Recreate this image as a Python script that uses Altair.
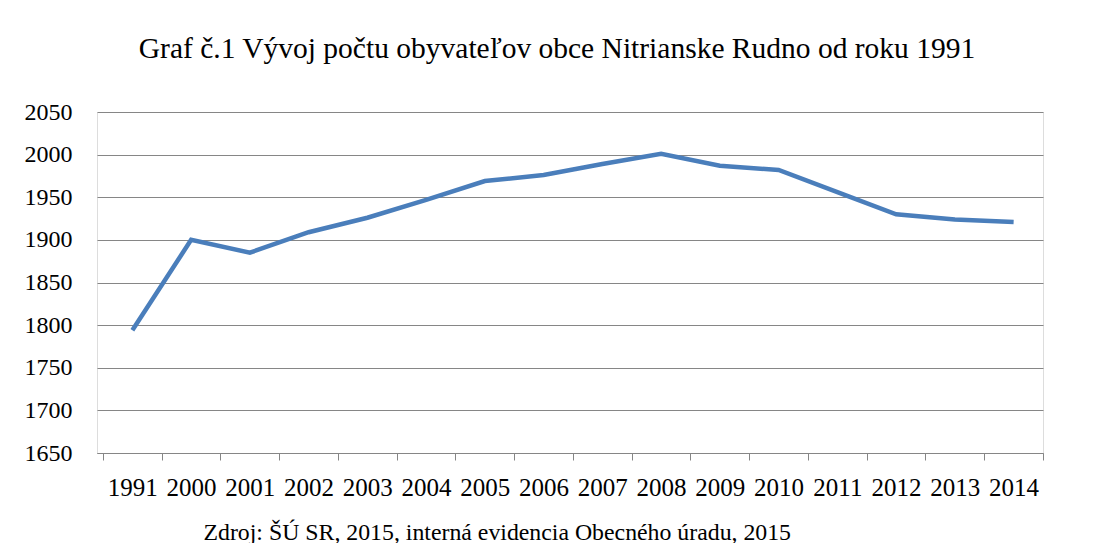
import altair as alt
import pandas as pd

years = ["1991", "2000", "2001", "2002", "2003", "2004", "2005", "2006",
         "2007", "2008", "2009", "2010", "2011", "2012", "2013", "2014"]
population = [1794, 1900, 1885, 1909, 1926, 1947, 1969, 1976,
              1989, 2001, 1987, 1982, 1956, 1930, 1924, 1921]
y_ticks = [1650, 1700, 1750, 1800, 1850, 1900, 1950, 2000, 2050]

title_text = "Graf č.1 Vývoj počtu obyvateľov obce Nitrianske Rudno od roku 1991"
source_text = "Zdroj: ŠÚ SR, 2015, interná evidencia Obecného úradu, 2015"

df = pd.DataFrame({"rok": years, "obyvatelia": population})

FONT = "Liberation Serif"
GRID = "#868686"

chart = alt.Chart(df).mark_line(color="#4A7EBB", strokeWidth=4.5).encode(
    x=alt.X(
        "rok:O",
        sort=years,
        bandPosition=0.5,
        scale=alt.Scale(type="band", paddingInner=0, paddingOuter=0.051, align=1),
        axis=alt.Axis(
            title=source_text,
            titleFont=FONT,
            titleFontSize=23.8,
            titleFontWeight="normal",
            titleColor="black",
            titleAnchor="start",
            titleAlign="left",
            titleBaseline="alphabetic",
            titleX=106,
            titleY=86,
            labelAngle=0,
            labelFont=FONT,
            labelFontSize=25,
            labelColor="black",
            labelPadding=15,
            tickBand="extent",
            ticks=True,
            tickSize=7,
            tickColor=GRID,
            tickWidth=1,
            domain=True,
            domainColor=GRID,
            domainWidth=1,
            grid=False,
        ),
    ),
    y=alt.Y(
        "obyvatelia:Q",
        scale=alt.Scale(domain=[1650, 2050], nice=False, zero=False),
        axis=alt.Axis(
            title=None,
            values=y_ticks,
            format="d",
            labelFont=FONT,
            labelFontSize=24,
            labelColor="black",
            labelPadding=25,
            ticks=False,
            domain=False,
            grid=True,
            gridColor=GRID,
            gridWidth=1,
        ),
    ),
).properties(
    width=946,
    height=341,
    title=alt.TitleParams(
        text=title_text,
        font=FONT,
        fontSize=29.5,
        fontWeight="normal",
        color="black",
        anchor="middle",
        frame="group",
        baseline="alphabetic",
        offset=13,
        dx=-13,
    ),
    autosize=alt.AutoSizeParams(type="none"),
    padding={"left": 89, "top": 104, "right": 50, "bottom": 90},
).configure_view(stroke=None).configure(background="white", font=FONT)

chart.save("out.html", embed_options={"renderer": "svg", "actions": False})
